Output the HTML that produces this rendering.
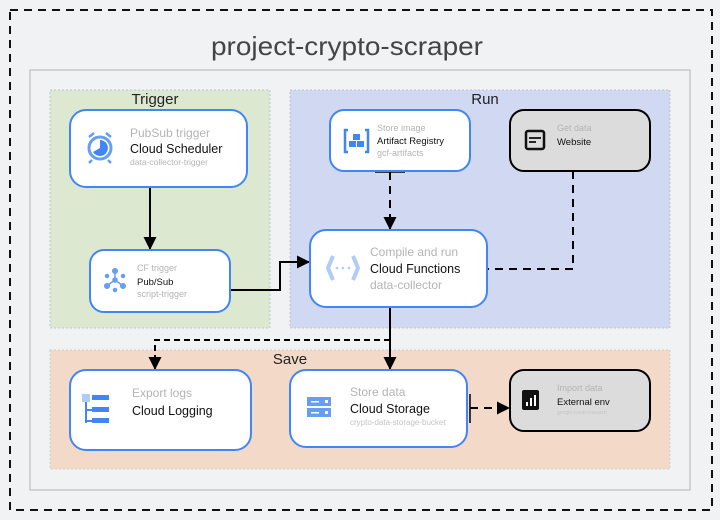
<!DOCTYPE html>
<html><head><meta charset="utf-8"><style>
html,body{margin:0;padding:0;background:#f1f2f4;}
svg{display:block;font-family:"Liberation Sans",sans-serif;}
</style></head><body>
<svg width="720" height="520" viewBox="0 0 720 520" xmlns="http://www.w3.org/2000/svg">
<defs>
<marker id="a" markerWidth="13" markerHeight="13" refX="12" refY="6.5" orient="auto" markerUnits="userSpaceOnUse"><path d="M0,0 L13,6.5 L0,13 z" fill="#000"/></marker>
</defs>
<rect x="0" y="0" width="720" height="520" fill="#f1f2f4"/>
<rect x="10" y="10" width="702" height="500" fill="none" stroke="#111" stroke-width="2" stroke-dasharray="8,6"/>
<text x="347" y="55" font-size="26" fill="#444" text-anchor="middle" textLength="272" lengthAdjust="spacingAndGlyphs">project-crypto-scraper</text>
<rect x="30" y="70" width="660" height="420" fill="#f1f2f4" stroke="#c8c8c8" stroke-width="1.5"/>
<rect x="50" y="90" width="220" height="238" fill="#dce9d0" stroke="#b8c8d8" stroke-dasharray="2,2"/>
<text x="155" y="104" font-size="15" fill="#222" text-anchor="middle">Trigger</text>
<rect x="290" y="90" width="380" height="238" fill="#d0d8f2" stroke="#b8c8d8" stroke-dasharray="2,2"/>
<text x="485" y="104" font-size="15" fill="#222" text-anchor="middle">Run</text>
<rect x="50" y="350" width="620" height="119" fill="#f3dac8" stroke="#ccc" stroke-dasharray="2,2"/>
<text x="290" y="364" font-size="15" fill="#222" text-anchor="middle">Save</text>

<line x1="150" y1="187" x2="150" y2="249" stroke="#000" stroke-width="2" marker-end="url(#a)"/>
<polyline points="230,290 280,290 280,262 309,262" fill="none" stroke="#000" stroke-width="2" marker-end="url(#a)"/>
<line x1="375" y1="172" x2="405" y2="172" stroke="#000" stroke-width="1.5"/>
<line x1="390" y1="172" x2="390" y2="229" stroke="#000" stroke-width="2" stroke-dasharray="8,6" marker-end="url(#a)"/>
<polyline points="573,171 573,269 488,269" fill="none" stroke="#000" stroke-width="2" stroke-dasharray="8,6"/>
<line x1="390" y1="307" x2="390" y2="369" stroke="#000" stroke-width="2" marker-end="url(#a)"/>
<polyline points="390,340 155,340 155,369" fill="none" stroke="#000" stroke-width="2" stroke-dasharray="6,4" marker-end="url(#a)"/>
<line x1="470" y1="394" x2="470" y2="423" stroke="#000" stroke-width="1.5"/>
<line x1="470" y1="408" x2="509" y2="408" stroke="#000" stroke-width="2" stroke-dasharray="8,6" marker-end="url(#a)"/>

<rect x="70" y="110" width="177" height="77" rx="16" fill="#fff" stroke="#4285f4" stroke-width="2"/>
<circle cx="100" cy="148" r="11" fill="none" stroke="#669df6" stroke-width="3"/>
<path d="M100,148 L100,140 A8,8 0 1 1 93,152 z" fill="#4285f4"/>
<path d="M89,137 l5,-4 M111,137 l-5,-4 M92,160 l-3,3 M108,160 l3,3" stroke="#669df6" stroke-width="2.5"/>
<text x="130" y="137" font-size="12" fill="#b4b4b4">PubSub trigger</text>
<text x="130" y="153" font-size="12.5" fill="#111">Cloud Scheduler</text>
<text x="130" y="165" font-size="8.5" fill="#b4b4b4">data-collector-trigger</text>

<rect x="90" y="250" width="140" height="62" rx="14" fill="#fff" stroke="#4285f4" stroke-width="2"/>
<g fill="#669df6" stroke="#669df6" stroke-width="1.5">
<line x1="115" y1="280" x2="115" y2="272"/><line x1="115" y1="280" x2="108" y2="285"/><line x1="115" y1="280" x2="122" y2="285"/>
<circle cx="115" cy="271" r="2.3"/><circle cx="107" cy="286" r="2.3"/><circle cx="123" cy="286" r="2.3"/>
<circle cx="107" cy="276" r="1.5"/><circle cx="123" cy="276" r="1.5"/><circle cx="115" cy="290" r="1.5"/><circle cx="115" cy="280" r="2"/>
</g>
<text x="137" y="271" font-size="9" fill="#b4b4b4">CF trigger</text>
<text x="137" y="285" font-size="9.5" fill="#111">Pub/Sub</text>
<text x="137" y="297" font-size="9" fill="#b4b4b4">script-trigger</text>

<rect x="330" y="110" width="140" height="61" rx="14" fill="#fff" stroke="#4285f4" stroke-width="2"/>
<path d="M348,130 h-3 v22 h3 M365,130 h3 v22 h-3" fill="none" stroke="#4285f4" stroke-width="2.5"/>
<g fill="#4285f4"><rect x="353" y="134" width="7" height="6"/><rect x="349" y="141" width="7" height="6"/><rect x="357" y="141" width="7" height="6"/></g>
<text x="377" y="131" font-size="9" fill="#b4b4b4">Store image</text>
<text x="377" y="144" font-size="9.5" fill="#111">Artifact Registry</text>
<text x="377" y="156" font-size="9" fill="#b4b4b4">gcf-artifacts</text>

<rect x="510" y="110" width="140" height="61" rx="14" fill="#dcdcdc" stroke="#000" stroke-width="2"/>
<rect x="526" y="131" width="18" height="18" rx="2" fill="none" stroke="#111" stroke-width="2.5"/>
<line x1="529" y1="138" x2="541" y2="138" stroke="#111" stroke-width="1.8"/><line x1="529" y1="142" x2="536" y2="142" stroke="#111" stroke-width="1.8"/>
<text x="557" y="131" font-size="9" fill="#b4b4b4">Get data</text>
<text x="557" y="145" font-size="9.5" fill="#111">Website</text>

<rect x="310" y="230" width="177" height="77" rx="16" fill="#fff" stroke="#4285f4" stroke-width="2"/>
<path d="M333,256 l-5,12 l5,12 M353,256 l5,12 l-5,12" fill="none" stroke="#aecbfa" stroke-width="4"/>
<g fill="#aecbfa"><circle cx="337" cy="268" r="1.3"/><circle cx="343" cy="268" r="1.3"/><circle cx="349" cy="268" r="1.3"/></g>
<text x="370" y="256" font-size="12" fill="#b4b4b4">Compile and run</text>
<text x="370" y="273" font-size="12.5" fill="#111">Cloud Functions</text>
<text x="370" y="289" font-size="12" fill="#b4b4b4">data-collector</text>

<rect x="70" y="370" width="181" height="80" rx="16" fill="#fff" stroke="#4285f4" stroke-width="2"/>
<rect x="82" y="394" width="8" height="8" fill="#aecbfa"/>
<path d="M86,402 v21 M86,410 h6 M86,421 h6" stroke="#4285f4" stroke-width="2" fill="none"/>
<g fill="#4285f4"><rect x="92" y="395" width="17" height="5"/><rect x="92" y="407" width="17" height="5"/><rect x="92" y="418" width="17" height="5"/></g>
<text x="132" y="397" font-size="12" fill="#b4b4b4">Export logs</text>
<text x="132" y="415" font-size="12.5" fill="#111">Cloud Logging</text>

<rect x="290" y="370" width="177" height="77" rx="16" fill="#fff" stroke="#4285f4" stroke-width="2"/>
<rect x="307" y="397" width="24" height="9" fill="#669df6"/><rect x="307" y="408" width="24" height="9" fill="#669df6"/>
<g fill="#fff"><rect x="311" y="401" width="8" height="1.5"/><rect x="311" y="412" width="8" height="1.5"/><rect x="325" y="400" width="3" height="3"/><rect x="325" y="411" width="3" height="3"/></g>
<text x="350" y="396" font-size="12" fill="#b4b4b4">Store data</text>
<text x="350" y="413" font-size="12.5" fill="#111">Cloud Storage</text>
<text x="350" y="425" font-size="8" fill="#c4c4c4">crypto-data-storage-bucket</text>

<rect x="510" y="370" width="140" height="61" rx="14" fill="#dcdcdc" stroke="#000" stroke-width="2"/>
<rect x="522" y="390" width="17" height="20" rx="2" fill="#111"/>
<g fill="#fff"><rect x="526" y="402" width="2" height="4"/><rect x="530" y="398" width="2" height="8"/><rect x="534" y="395" width="2" height="11"/></g>
<text x="557" y="391" font-size="9" fill="#b4b4b4">Import data</text>
<text x="557" y="405" font-size="9.5" fill="#111">External env</text>
<text x="557" y="414" font-size="5" fill="#c4c4c4">google-colab-research</text>
</svg>
</body></html>
